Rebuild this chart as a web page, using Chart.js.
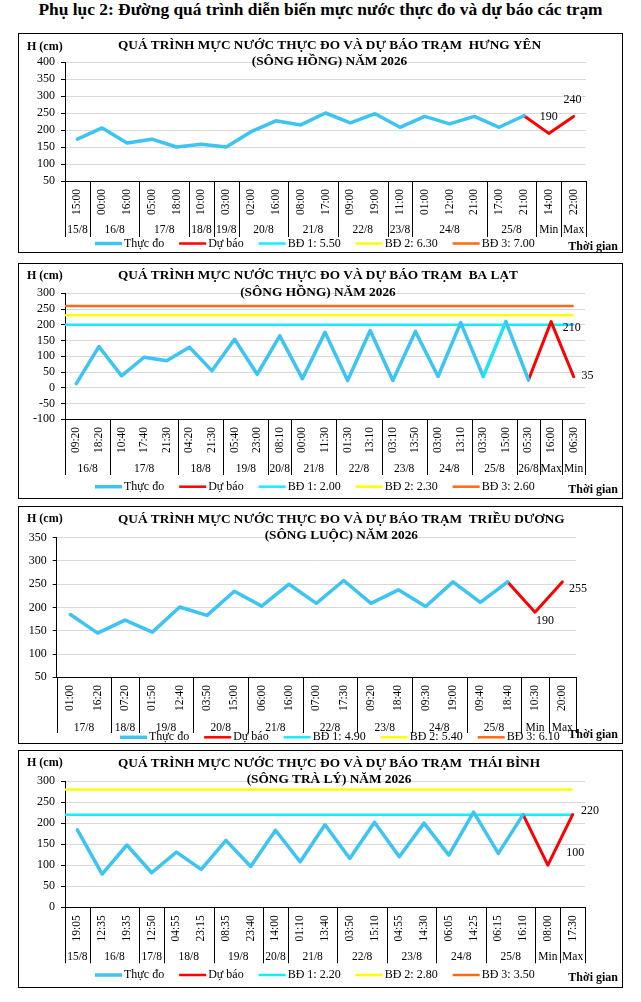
<!DOCTYPE html>
<html lang="vi">
<head>
<meta charset="utf-8">
<title>Phụ lục 2 - Mực nước thực đo và dự báo</title>
<script src="https://cdn.jsdelivr.net/npm/chart.js@4.4.1/dist/chart.umd.min.js"></script>
<style>
  html, body { margin: 0; padding: 0; background: #fff; }
  body { width: 641px; height: 1002px; position: relative; overflow: hidden; font-family: "Liberation Serif", "Times New Roman", serif; }
  .page-title { position: absolute; left: 0; top: 0; width: 641px; text-align: center; font-weight: bold; font-size: 17.4px; line-height: 19px; color: #000; }
  .panel { position: absolute; left: 18px; width: 605px; border: 1px solid #000; box-sizing: border-box; }
  .panel canvas { display: block; }
</style>
</head>
<body>
<div class="page-title">Phụ lục 2: Đường quá trình diễn biến mực nước thực đo và dự báo các trạm</div>
<div class="panel" style="top:33px;height:220px;"><canvas id="chart-hy"></canvas></div>
<div class="panel" style="top:263px;height:236px;"><canvas id="chart-bl"></canvas></div>
<div class="panel" style="top:506px;height:238px;"><canvas id="chart-td"></canvas></div>
<div class="panel" style="top:750px;height:238px;"><canvas id="chart-tb"></canvas></div>

<script>
// ==================== DATA ====================
// Hưng Yên (sông Hồng)
const hyTimes = ['15:00', '00:00', '16:00', '05:00', '18:00', '10:00', '03:00', '02:00', '16:00', '08:00', '17:00',
  '09:00', '19:00', '11:00', '01:00', '12:00', '21:00', '17:00', '21:00', '14:00', '22:00'];
const hyDates = ['15/8', '16/8', '17/8', '18/8', '19/8', '20/8', '21/8', '22/8', '23/8', '24/8', '25/8', 'Min', 'Max'];
const hyDateSpans = [1, 2, 2, 1, 1, 2, 2, 2, 1, 3, 2, 1, 1];
const hyObserved = [173, 206, 162, 173, 150, 158, 150, 195, 227, 215, 250, 221, 248, 208, 240, 218, 240, 208, 242];
const hyForecast = [190, 240];
const hyAlarm = [5.50, 6.30, 7.00];
const hyYRange = [50, 400, 50];

// Ba Lạt (sông Hồng)
const blTimes = ['09:20', '18:20', '10:40', '17:40', '21:30', '04:20', '21:30', '05:40', '23:00', '08:10', '00:00', '11:30',
  '01:30', '13:10', '03:10', '13:50', '03:00', '13:10', '03:30', '15:00', '05:30', '16:00', '06:30'];
const blDates = ['16/8', '17/8', '18/8', '19/8', '20/8', '21/8', '22/8', '23/8', '24/8', '25/8', '26/8', 'Max', 'Min'];
const blDateSpans = [2, 3, 2, 2, 1, 2, 2, 2, 2, 2, 1, 1, 1];
const blObserved = [13, 131, 38, 97, 86, 129, 54, 154, 43, 165, 29, 176, 23, 182, 23, 179, 36, 207, 36, 210, 25];
const blForecast = [210, 35];
const blAlarm = [2.00, 2.30, 2.60];
const blYRange = [-100, 300, 50];

// Triều Dương (sông Luộc)
const tdTimes = ['01:00', '16:20', '07:20', '01:50', '12:40', '03:50', '15:00', '06:00', '16:00', '07:00', '17:30',
  '09:20', '18:40', '09:30', '19:00', '09:40', '18:40', '10:30', '20:00'];
const tdDates = ['17/8', '18/8', '19/8', '20/8', '21/8', '22/8', '23/8', '24/8', '25/8', 'Min', 'Max'];
const tdDateSpans = [2, 1, 2, 2, 2, 2, 2, 2, 2, 1, 1];
const tdObserved = [185, 145, 173, 147, 201, 183, 235, 203, 250, 209, 258, 209, 238, 202, 255, 211, 255];
const tdForecast = [190, 255];
const tdAlarm = [4.90, 5.40, 6.10];
const tdYRange = [50, 350, 50];

// Thái Bình (sông Trà Lý)
const tbTimes = ['19:05', '12:35', '19:35', '12:50', '04:55', '23:15', '08:35', '23:40', '14:00', '01:10', '13:40',
  '03:50', '15:10', '04:55', '14:30', '06:05', '14:25', '06:15', '16:10', '08:00', '17:30'];
const tbDates = ['15/8', '16/8', '17/8', '18/8', '19/8', '20/8', '21/8', '22/8', '23/8', '24/8', '25/8', 'Min', 'Max'];
const tbDateSpans = [1, 2, 1, 2, 2, 1, 2, 2, 2, 2, 2, 1, 1];
const tbObserved = [184, 79, 148, 82, 131, 90, 159, 97, 183, 108, 196, 116, 202, 120, 200, 124, 226, 128, 220];
const tbForecast = [100, 220];
const tbAlarm = [2.20, 2.80, 3.50];
const tbYRange = [0, 300, 50];

// ==================== STYLE ====================
const SERIF = '"Liberation Serif", "Times New Roman", serif';
const OBS_COLOR = '#3cc4f3';
const FC_COLOR = '#ff0000';
const ALARM_COLORS = ['#14eef6', '#ffff00', '#ff6a12'];
const GRID_COLOR = '#d9d9d9';
const TITLE_PREFIX = 'QUÁ TRÌNH MỰC NƯỚC THỰC ĐO VÀ DỰ BÁO TRẠM  ';

Chart.defaults.font.family = SERIF;
Chart.defaults.color = '#000';

const panels = [
  {
    canvas: 'chart-hy', w: 603, h: 218,
    station: 'HƯNG YÊN', river: '(SÔNG HỒNG) NĂM 2026',
    times: hyTimes, dates: hyDates, spans: hyDateSpans, observed: hyObserved, forecast: hyForecast,
    alarm: hyAlarm, yRange: hyYRange,
    plot: { left: 46, right: 567, top: 28, bottom: 147 },
    titleX: 99, titleY: [12, 28], unitY: 13,
    timeY: 168, dateY: 196, sepBottom: 203, legendX: 76, legendY: 209.5, gianY: 213,
    labelPos: [{ dx: 0, dy: -17, align: 'center' }, { dx: -1, dy: -17, align: 'center' }]
  },
  {
    canvas: 'chart-bl', w: 603, h: 234,
    station: 'BA LẠT', river: '(SÔNG HỒNG) NĂM 2026',
    times: blTimes, dates: blDates, spans: blDateSpans, observed: blObserved, forecast: blForecast,
    alarm: blAlarm, yRange: blYRange,
    plot: { left: 46, right: 566, top: 29.3, bottom: 155.3 },
    titleX: 99, titleY: [12, 28.7], unitY: 12,
    timeY: 176, dateY: 205, sepBottom: 211, legendX: 76, legendY: 222.7, gianY: 226,
    labelPos: [{ dx: 11.7, dy: 5.7, align: 'left' }, { dx: 7.7, dy: -0.7, align: 'left' }],
    segmentColors: { 18: '#1fe4f4' }
  },
  {
    canvas: 'chart-td', w: 603, h: 236,
    station: 'TRIỀU DƯƠNG', river: '(SÔNG LUỘC) NĂM 2026',
    times: tdTimes, dates: tdDates, spans: tdDateSpans, observed: tdObserved, forecast: tdForecast,
    alarm: tdAlarm, yRange: tdYRange,
    plot: { left: 37.7, right: 557, top: 30.7, bottom: 170.3 },
    titleX: 99, titleY: [12.3, 28.7], unitY: 12.3,
    timeY: 191, dateY: 220.7, sepBottom: 226, legendX: 101, legendY: 230.3, gianY: 228,
    labelPos: [{ dx: 10, dy: 9, align: 'center' }, { dx: 6.7, dy: 7.3, align: 'left' }]
  },
  {
    canvas: 'chart-tb', w: 603, h: 236,
    station: 'THÁI BÌNH', river: '(SÔNG TRÀ LÝ) NĂM 2026',
    times: tbTimes, dates: tbDates, spans: tbDateSpans, observed: tbObserved, forecast: tbForecast,
    alarm: tbAlarm, yRange: tbYRange,
    plot: { left: 46, right: 566, top: 30, bottom: 156.3 },
    titleX: 99, titleY: [12.3, 28.3], unitY: 12.3,
    timeY: 177.3, dateY: 206.3, sepBottom: 212.3, legendX: 76, legendY: 224, gianY: 227.3,
    labelPos: [{ dx: 18.3, dy: -12, align: 'left' }, { dx: 8.3, dy: -4.3, align: 'left' }]
  }
];

// ==================== DECORATION ====================
// Excel-style extras: title block, two-level category axis, legend, value labels
function decorPlugin(p) {
  return {
    id: 'panelDecor',
    afterDraw(chart) {
      const ctx = chart.ctx;
      const xs = chart.scales.x;
      const area = chart.chartArea;
      const step = xs.getPixelForValue(1) - xs.getPixelForValue(0);
      ctx.save();
      ctx.fillStyle = '#000';
      ctx.textBaseline = 'middle';

      // title (line 2 centred under line 1)
      ctx.font = `bold 13.3px ${SERIF}`;
      ctx.textAlign = 'left';
      const line1 = TITLE_PREFIX + p.station;
      const w1 = ctx.measureText(line1).width;
      ctx.fillText(line1, p.titleX, p.titleY[0]);
      ctx.textAlign = 'center';
      ctx.fillText(p.river, p.titleX + w1 / 2, p.titleY[1]);

      // unit + axis name
      ctx.font = `bold 12px ${SERIF}`;
      ctx.textAlign = 'left';
      ctx.fillText('H (cm)', 8, p.unitY);
      ctx.textAlign = 'right';
      ctx.fillText('Thời gian', p.w - 4, p.gianY);

      // time labels (rotated)
      ctx.font = `11.5px ${SERIF}`;
      ctx.textAlign = 'center';
      p.times.forEach((t, i) => {
        ctx.save();
        ctx.translate(xs.getPixelForValue(i), p.timeY);
        ctx.rotate(-Math.PI / 2);
        ctx.fillText(t, 0, 0);
        ctx.restore();
      });

      // date groups + separators
      ctx.strokeStyle = '#000';
      ctx.lineWidth = 1;
      const bounds = [area.left];
      let idx = 0;
      p.dates.forEach((d, g) => {
        const x0 = xs.getPixelForValue(idx) - step / 2;
        const x1 = xs.getPixelForValue(idx + p.spans[g] - 1) + step / 2;
        ctx.fillText(d, (x0 + x1) / 2, p.dateY);
        bounds.push(x1);
        idx += p.spans[g];
      });
      ctx.beginPath();
      bounds.forEach(b => {
        const x = Math.round(b) + 0.5;
        ctx.moveTo(x, area.bottom);
        ctx.lineTo(x, p.sepBottom);
      });
      ctx.stroke();

      // forecast value labels
      ctx.font = `12px ${SERIF}`;
      const meta = chart.getDatasetMeta(1);
      const last = p.observed.length - 1;
      p.forecast.forEach((v, k) => {
        const pt = meta.data[last + 1 + k];
        const pos = p.labelPos[k];
        ctx.textAlign = pos.align;
        ctx.fillText(String(v), pt.x + pos.dx, pt.y + pos.dy);
      });

      // legend
      ctx.textAlign = 'left';
      let lx = p.legendX;
      chart.data.datasets.forEach(ds => {
        ctx.beginPath();
        ctx.strokeStyle = ds.borderColor;
        ctx.lineWidth = ds.legendWidth;
        ctx.moveTo(lx, p.legendY);
        ctx.lineTo(lx + 27, p.legendY);
        ctx.stroke();
        ctx.fillText(ds.label, lx + 29, p.legendY);
        lx += 29 + ctx.measureText(ds.label).width + 15;
      });
      ctx.restore();
    }
  };
}

// ==================== CHARTS ====================
function buildChart(p) {
  const n = p.times.length;
  const last = p.observed.length - 1;
  const obs = p.times.map((_, i) => (i <= last ? p.observed[i] : null));
  const fc = p.times.map(() => null);
  fc[last] = p.observed[last];
  p.forecast.forEach((v, k) => { fc[last + 1 + k] = v; });

  const xlMin = -0.5;
  const alarmSets = p.alarm.map((lvl, k) => ({
    label: `BĐ ${k + 1}: ${lvl.toFixed(2)}`,
    data: [{ x: xlMin, y: lvl * 100 }, { x: n - 1, y: lvl * 100 }],
    xAxisID: 'xl',
    borderColor: ALARM_COLORS[k],
    borderWidth: 2.5,
    legendWidth: 2.5,
    pointRadius: 0
  }));

  const segColors = p.segmentColors || {};
  const canvas = document.getElementById(p.canvas);
  canvas.width = p.w;
  canvas.height = p.h;
  canvas.style.width = p.w + 'px';
  canvas.style.height = p.h + 'px';

  return new Chart(canvas, {
    type: 'line',
    data: {
      labels: p.times,
      datasets: [
        {
          label: 'Thực đo', data: obs, borderColor: OBS_COLOR, borderWidth: 3.5, legendWidth: 3.5,
          pointRadius: 0, borderJoinStyle: 'round', borderCapStyle: 'round',
          segment: { borderColor: c => segColors[c.p0DataIndex] }
        },
        {
          label: 'Dự báo', data: fc, borderColor: FC_COLOR, borderWidth: 3, legendWidth: 2.5,
          pointRadius: 0, borderJoinStyle: 'round', borderCapStyle: 'round'
        },
        ...alarmSets
      ]
    },
    options: {
      responsive: false,
      animation: false,
      events: [],
      layout: { padding: { left: 0, right: p.w - p.plot.right, top: p.plot.top, bottom: 0 } },
      scales: {
        x: {
          type: 'category',
          offset: true,
          ticks: { display: false },
          grid: { display: false },
          border: { display: true, color: '#000', width: 1 },
          afterFit: s => { s.height = p.h - p.plot.bottom; }
        },
        xl: { type: 'linear', display: false, min: xlMin, max: n - 0.5 },
        y: {
          min: p.yRange[0],
          max: p.yRange[1],
          ticks: {
            stepSize: p.yRange[2], autoSkip: false, maxTicksLimit: 30,
            padding: 6, font: { size: 12, lineHeight: 1 }, color: '#000'
          },
          grid: {
            color: c => (c.tick && c.tick.value === p.yRange[0] ? '#000' : GRID_COLOR),
            tickColor: '#000',
            tickLength: 4,
            lineWidth: 1
          },
          border: { display: true, color: '#000', width: 1 },
          afterFit: s => { s.width = p.plot.left; }
        }
      },
      plugins: { legend: { display: false }, tooltip: { enabled: false }, title: { display: false } }
    },
    plugins: [decorPlugin(p)]
  });
}

panels.forEach(buildChart);
</script>
</body>
</html>
